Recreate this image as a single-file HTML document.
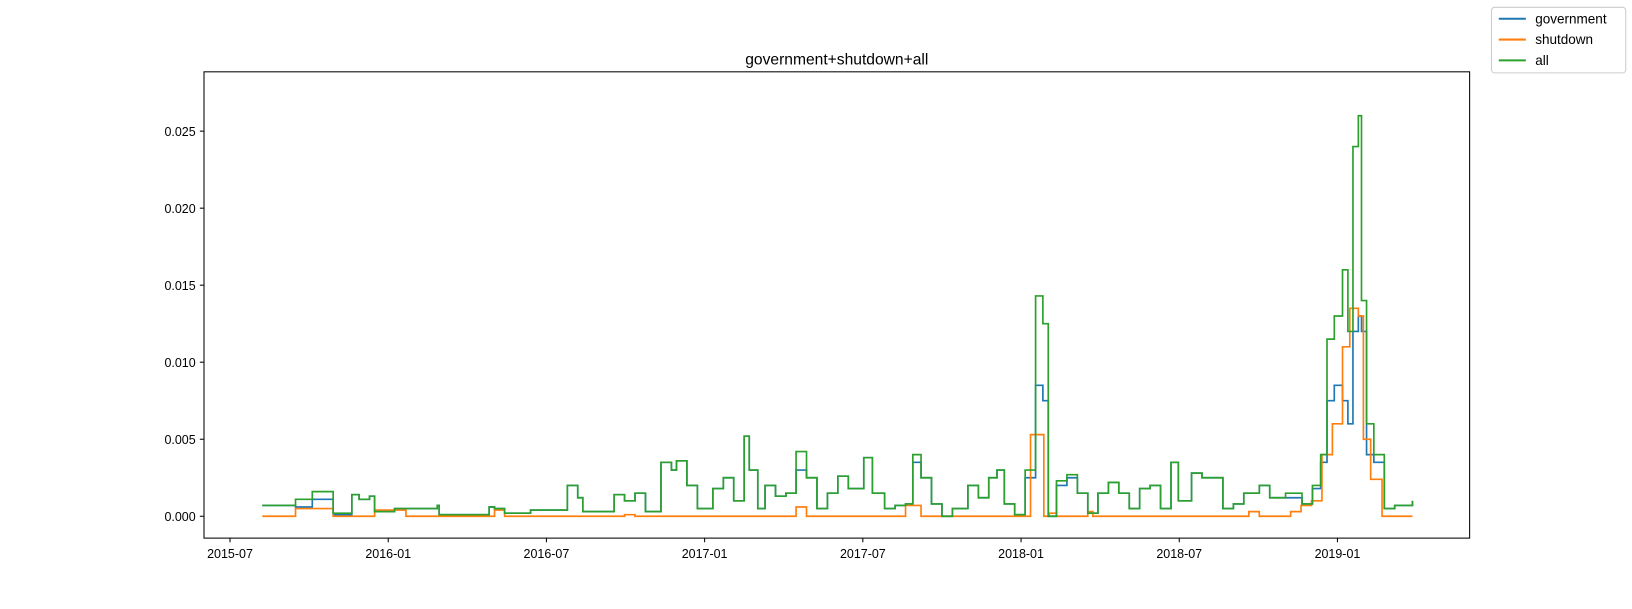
<!DOCTYPE html>
<html><head><meta charset="utf-8"><style>
body{margin:0;background:#fff;font-family:"Liberation Sans","DejaVu Sans",sans-serif}
</style></head><body>
<svg id="chart" width="1632" height="604" viewBox="0 0 1568 580.3" xmlns="http://www.w3.org/2000/svg" font-family="'Liberation Sans','DejaVu Sans',sans-serif">
<rect width="1568" height="581" fill="#fff"/>
<text x="804" y="62" font-size="15" text-anchor="middle">government+shutdown+all</text>
<g id="ticks"></g>
<g id="lines"></g>
<rect x="196" y="69" width="1216" height="448" fill="none" stroke="#000" stroke-width="1"/>
<g>
<rect x="1433" y="7" width="129" height="63" rx="3" fill="#fff" stroke="#ccc"/>
<g><line x1="1440" y1="18" x2="1466" y2="18" stroke="#1f77b4" stroke-width="2"/><text x="1475" y="22.5" font-size="13">government</text></g>
<g><line x1="1440" y1="38" x2="1466" y2="38" stroke="#ff7f0e" stroke-width="2"/><text x="1475" y="42.5" font-size="13">shutdown</text></g>
<g><line x1="1440" y1="58" x2="1466" y2="58" stroke="#2ca02c" stroke-width="2"/><text x="1475" y="62.5" font-size="13">all</text></g>
</g>
</svg>
<script>
// years since 2015-07-01
const allDates=[.102,.207,.260,.326,.385,.408,.441,.457,.520,.655,.661,.819,.836,.868,.950,1.066,1.099,1.115,1.214,1.247,1.280,1.313,1.362,1.395,1.411,1.444,1.477,1.526,1.559,1.592,1.625,1.641,1.668,1.691,1.724,1.757,1.789,1.822,1.855,1.888,1.921,1.954,2.003,2.030,2.069,2.102,2.135,2.158,2.184,2.217,2.250,2.283,2.332,2.365,2.398,2.424,2.447,2.480,2.513,2.546,2.569,2.586,2.612,2.645,2.678,2.711,2.743,2.776,2.809,2.842,2.875,2.908,2.941,2.974,2.997,3.039,3.072,3.105,3.138,3.171,3.204,3.253,3.286,3.336,3.388,3.421,3.447,3.467,3.490,3.516,3.533,3.549,3.566,3.576,3.592,3.615,3.648,3.681,3.737];
// values in thousandths
const allValues=[0.7,1.1,1.6,0.2,1.4,1.1,1.3,0.3,0.5,0.7,0.1,0.6,0.5,0.2,0.4,2.0,1.2,0.3,1.4,1.0,1.5,0.3,3.5,3.0,3.6,2.0,0.5,1.8,2.5,1.0,5.2,3.0,0.5,2.0,1.3,1.5,4.2,2.5,0.5,1.5,2.6,1.8,3.8,1.5,0.5,0.7,0.8,4.0,2.5,0.8,0,0.5,2.0,1.2,2.5,3.0,0.8,0.1,3.0,14.3,12.5,0,2.3,2.7,1.5,0.2,1.5,2.2,1.5,0.5,1.8,2.0,0.5,3.5,1.0,2.8,2.5,2.5,0.5,0.8,1.5,2.0,1.2,1.5,0.8,2.0,4.0,11.5,13.0,16.0,12.0,24.0,26.0,14.0,6.0,4.0,0.5,0.7,1.0];
const govValues=[0.7,0.6,1.1,0.1,1.4,1.1,1.3,0.3,0.5,0.7,0.1,0.6,0.5,0.2,0.4,2.0,1.2,0.3,1.4,1.0,1.5,0.3,3.5,3.0,3.6,2.0,0.5,1.8,2.5,1.0,5.2,3.0,0.5,2.0,1.3,1.5,3.0,2.5,0.5,1.5,2.6,1.8,3.8,1.5,0.5,0.7,0.8,3.5,2.5,0.8,0,0.5,2.0,1.2,2.5,3.0,0.8,0.1,2.5,8.5,7.5,0,2.0,2.5,1.5,0.2,1.5,2.2,1.5,0.5,1.8,2.0,0.5,3.5,1.0,2.8,2.5,2.5,0.5,0.8,1.5,2.0,1.2,1.2,0.8,1.8,3.5,7.5,8.5,7.5,6.0,12.0,13.0,12.0,4.0,3.5,0.5,0.7,1.0];
const shutDates=[.102,.207,.326,.457,.556,.836,.868,1.247,1.280,1.789,1.822,2.135,2.184,2.530,2.572,2.589,2.612,2.711,2.727,3.220,3.253,3.352,3.385,3.418,3.451,3.484,3.516,3.539,3.566,3.582,3.605,3.641,3.737];
const shutValues=[0,0.5,0,0.4,0,0.4,0,0.1,0,0.6,0,0.7,0,5.3,0,0.2,0,0.3,0,0.3,0,0.3,0.7,1.0,4.0,6.0,11.0,13.5,13.0,5.0,2.4,0,0];
const yTicks=[0,0.005,0.010,0.015,0.020,0.025];
const yTickLabels=["0.000","0.005","0.010","0.015","0.020","0.025"];
const xTicks=[0,0.5,1,1.5,2,2.5,3,3.5];
const xTickLabels=["2015-07","2016-01","2016-07","2017-01","2017-07","2018-01","2018-07","2019-01"];

const NS="http://www.w3.org/2000/svg";
function xs(t){return 221+t*304;}
function ys(v){return 496-v*14800;}
const tg=document.getElementById('ticks');
yTicks.forEach((v,i)=>{
  const l=document.createElementNS(NS,'line');
  l.setAttribute('x1',192);l.setAttribute('x2',196);l.setAttribute('y1',ys(v));l.setAttribute('y2',ys(v));l.setAttribute('stroke','#000');
  
  
  tg.appendChild(l);
  const t=document.createElementNS(NS,'text');
  t.setAttribute('x',188);t.setAttribute('y',ys(v)+4.5);t.setAttribute('font-size','12');t.setAttribute('text-anchor','end');
  t.textContent=yTickLabels[i];
  
  
  tg.appendChild(t);
});
xTicks.forEach((v,i)=>{
  const l=document.createElementNS(NS,'line');
  l.setAttribute('x1',xs(v));l.setAttribute('x2',xs(v));l.setAttribute('y1',517);l.setAttribute('y2',521);l.setAttribute('stroke','#000');
  
  
  tg.appendChild(l);
  const t=document.createElementNS(NS,'text');
  t.setAttribute('x',xs(v));t.setAttribute('y',536);t.setAttribute('font-size','12');t.setAttribute('text-anchor','middle');
  t.textContent=xTickLabels[i];
  
  
  tg.appendChild(t);
});
function stepPath(d,v){
  let p='';
  for(let i=0;i<d.length;i++){
    const x=xs(d[i]),y=ys(v[i]/1000);
    if(i===0)p+='M'+x+','+y;
    else p+='H'+x+'V'+y;
  }
  return p;
}
const lg=document.getElementById('lines');
function addLine(d,v,c,name){
  const p=document.createElementNS(NS,'path');
  p.setAttribute('d',stepPath(d,v));p.setAttribute('fill','none');p.setAttribute('stroke',c);p.setAttribute('stroke-width','1.6');
  
  
  lg.appendChild(p);
}
addLine(allDates,govValues,'#1f77b4','government-line');
addLine(shutDates,shutValues,'#ff7f0e','shutdown-line');
addLine(allDates,allValues,'#2ca02c','all-line');
</script>
</body></html>
